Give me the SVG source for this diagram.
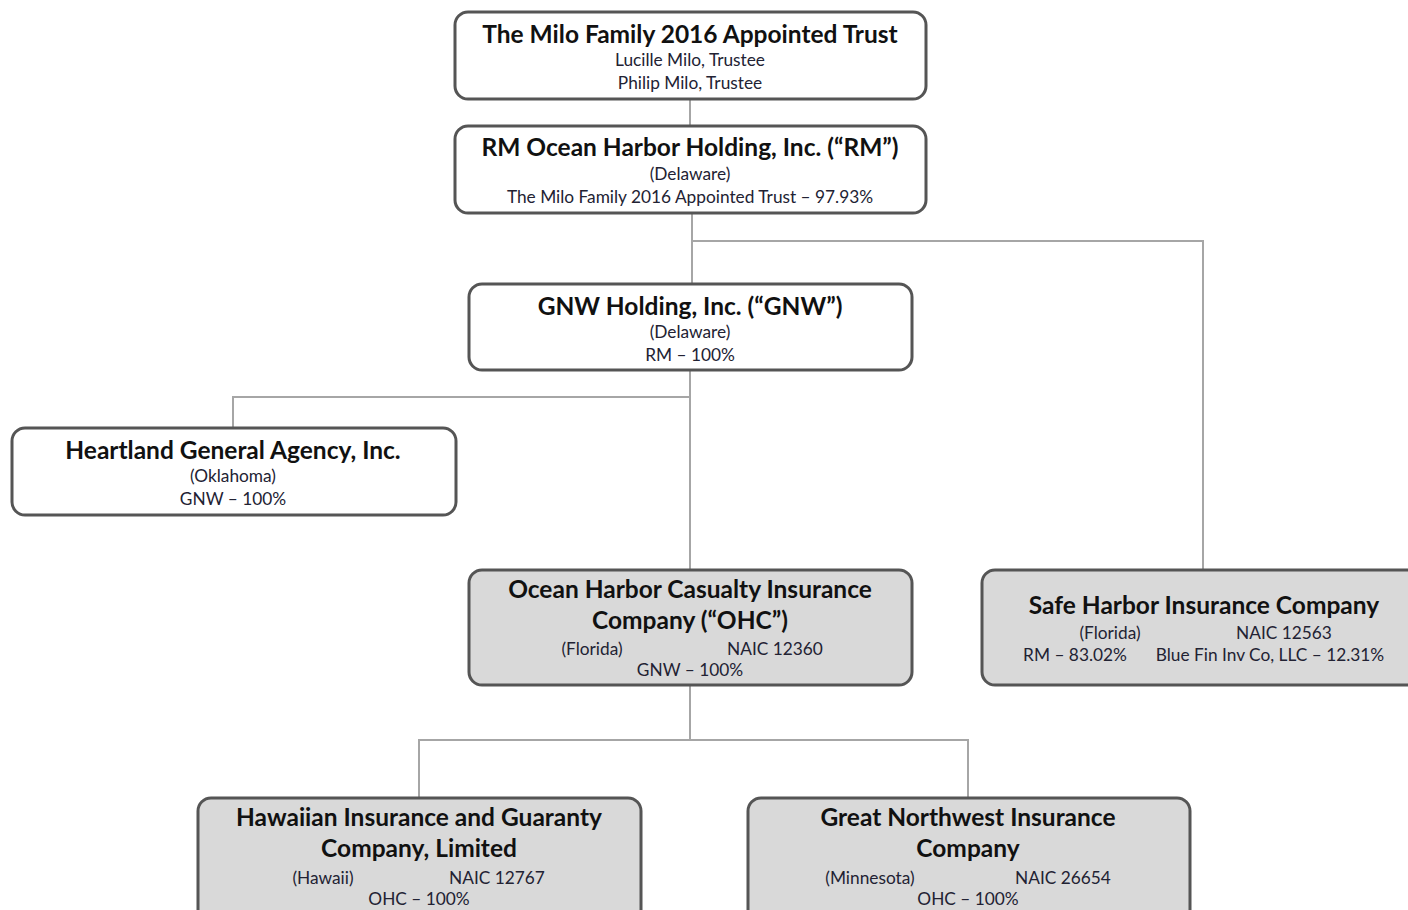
<svg xmlns="http://www.w3.org/2000/svg" width="1408" height="910" viewBox="0 0 1408 910">
<style>
.box{fill:#ffffff;stroke:#555555;stroke-width:3;}
.ins{fill:#d9d9d9;stroke:#555555;stroke-width:3;}
.t{font-family:Lato,"Liberation Sans",sans-serif;font-weight:bold;font-size:24.5px;fill:#111111;text-anchor:middle;}
.s{font-family:Lato,"Liberation Sans",sans-serif;font-size:17.3px;fill:#222233;text-anchor:middle;}
.c{fill:none;stroke:#a6a6a6;stroke-width:2;}
</style>
<rect width="1408" height="910" fill="#ffffff"/>
<g id="connectors">
<path class="c" d="M690 99 V126"/>
<path class="c" d="M692 213 V284"/>
<path class="c" d="M692 241 H1203 V570"/>
<path class="c" d="M690 370 V570"/>
<path class="c" d="M690 397 H233 V428"/>
<path class="c" d="M690 685 V740"/>
<path class="c" d="M419 798 V740 H968 V798"/>
</g>
<g id="trust">
<rect class="box" x="455" y="12" width="471" height="87" rx="13"/>
<text class="t" x="690" y="43">The Milo Family 2016 Appointed Trust</text>
<text class="s" x="690" y="66">Lucille Milo, Trustee</text>
<text class="s" x="690" y="89">Philip Milo, Trustee</text>
</g>
<g id="rm">
<rect class="box" x="455" y="126" width="471" height="87" rx="13"/>
<text class="t" x="690" y="156">RM Ocean Harbor Holding, Inc. (“RM”)</text>
<text class="s" x="690" y="180">(Delaware)</text>
<text class="s" x="690" y="203">The Milo Family 2016 Appointed Trust – 97.93%</text>
</g>
<g id="gnw">
<rect class="box" x="469" y="284" width="443" height="86" rx="13"/>
<text class="t" x="690" y="315">GNW Holding, Inc. (“GNW”)</text>
<text class="s" x="690" y="338">(Delaware)</text>
<text class="s" x="690" y="361">RM – 100%</text>
</g>
<g id="heartland">
<rect class="box" x="12" y="428" width="444" height="87" rx="13"/>
<text class="t" x="233" y="459">Heartland General Agency, Inc.</text>
<text class="s" x="233" y="482">(Oklahoma)</text>
<text class="s" x="233" y="505">GNW – 100%</text>
</g>
<g id="ohc">
<rect class="ins" x="469" y="570" width="443" height="115" rx="13"/>
<text class="t" x="690" y="598">Ocean Harbor Casualty Insurance</text>
<text class="t" x="690" y="629">Company (“OHC”)</text>
<text class="s" x="592" y="655">(Florida)</text>
<text class="s" x="775" y="655">NAIC 12360</text>
<text class="s" x="690" y="676">GNW – 100%</text>
</g>
<g id="safeharbor">
<rect class="ins" x="982" y="570" width="450" height="115" rx="13"/>
<text class="t" x="1204" y="614">Safe Harbor Insurance Company</text>
<text class="s" x="1110" y="639">(Florida)</text>
<text class="s" x="1284" y="639">NAIC 12563</text>
<text class="s" x="1075" y="661">RM – 83.02%</text>
<text class="s" x="1270" y="661">Blue Fin Inv Co, LLC – 12.31%</text>
</g>
<g id="hawaiian">
<rect class="ins" x="198" y="798" width="443" height="140" rx="13"/>
<text class="t" x="419" y="826">Hawaiian Insurance and Guaranty</text>
<text class="t" x="419" y="857">Company, Limited</text>
<text class="s" x="323" y="884">(Hawaii)</text>
<text class="s" x="497" y="884">NAIC 12767</text>
<text class="s" x="419" y="905">OHC – 100%</text>
</g>
<g id="greatnorthwest">
<rect class="ins" x="748" y="798" width="442" height="140" rx="13"/>
<text class="t" x="968" y="826">Great Northwest Insurance</text>
<text class="t" x="968" y="857">Company</text>
<text class="s" x="870" y="884">(Minnesota)</text>
<text class="s" x="1063" y="884">NAIC 26654</text>
<text class="s" x="968" y="905">OHC – 100%</text>
</g>
</svg>
